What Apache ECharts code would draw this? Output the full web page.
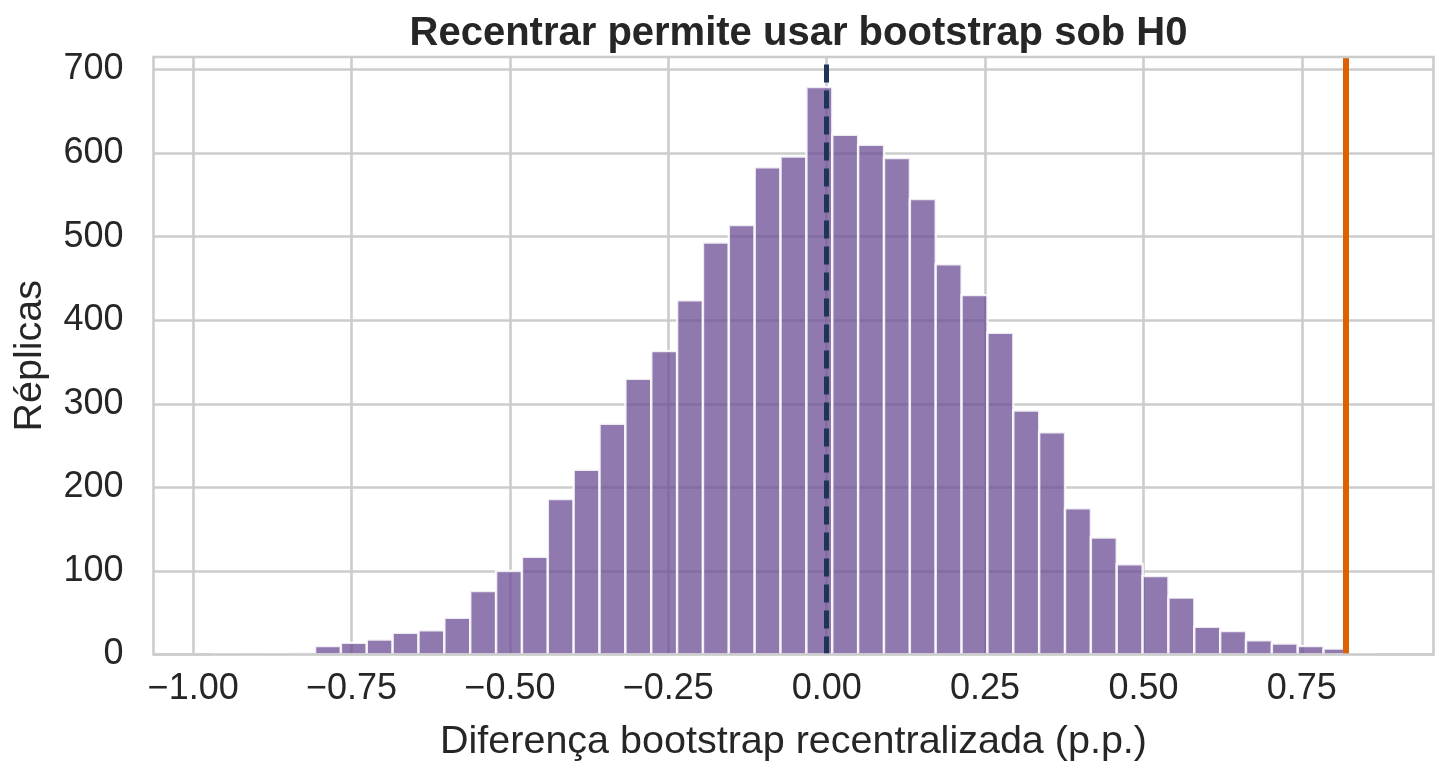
<!DOCTYPE html>
<html>
<head>
<meta charset="utf-8">
<script src="https://cdn.jsdelivr.net/npm/echarts@6/dist/echarts.min.js"></script>
<style>
  html, body { margin: 0; padding: 0; background: #fff; }
  #chart { width: 1449px; height: 777px; }
</style>
</head>
<body>
<div id="chart"></div>
<script>
// histogram bins (left edge of first bin + bin width) and counts per bin
var binStart = -0.9708;
var binWidth = 0.04082;
var counts = [1, 0, 1, 2,
    10, 14, 18, 26, 29, 44, 76, 100, 117,
    186, 221, 276, 330, 363, 424, 493, 514, 583,
    596, 679, 622, 610, 594, 545,
    467, 430, 385, 292, 266, 175, 140,
    108, 94, 68, 33, 28, 17, 13, 10, 7,
    1];

var nullValue = 0;        // H0 centre (dashed)
var observedDiff = 0.821; // observed difference (orange)

var xTicks = [-1, -0.75, -0.5, -0.25, 0, 0.25, 0.5, 0.75];
var yTicks = [0, 100, 200, 300, 400, 500, 600, 700];
var xMin = -1.0626, xMax = 0.9579;
var yMax = 715;

var histData = [];
for (var i = 0; i < counts.length; i++) {
    var lo = binStart + i * binWidth;
    histData.push([lo, lo + binWidth, counts[i]]);
}

var txt = '#262626';
var fontFam = '"Liberation Sans", Arial, sans-serif';
var gridCol = '#cccccc';

var myChart = echarts.init(document.getElementById('chart'));

var option = {
    animation: false,
    title: {
        text: 'Recentrar permite usar bootstrap sob H0',
        left: 793.5,
        textAlign: 'center',
        top: 9,
        textStyle: {
            color: txt,
            fontFamily: fontFam,
            fontWeight: 'bold',
            fontSize: 40
        }
    },
    grid: {
        show: true,
        z: 10,
        left: 153.5,
        right: 15.5,
        top: 57,
        bottom: 122.5,
        borderColor: gridCol,
        borderWidth: 2.6,
        backgroundColor: 'transparent'
    },
    xAxis: {
        type: 'value',
        min: xMin,
        max: xMax,
        name: 'Diferença bootstrap recentralizada (p.p.)',
        nameLocation: 'middle',
        nameGap: 68,
        nameTextStyle: { color: txt, fontFamily: fontFam, fontSize: 39.5 },
        axisLine: { show: false },
        axisTick: { show: false, customValues: xTicks },
        axisLabel: {
            customValues: xTicks,
            margin: 17,
            color: txt,
            fontFamily: fontFam,
            fontSize: 36,
            formatter: function (v) {
                return (v < 0 ? '\u2212' : '') + Math.abs(v).toFixed(2);
            }
        },
        splitLine: { show: true, lineStyle: { color: gridCol, width: 2.6 } }
    },
    yAxis: {
        type: 'value',
        min: 0,
        max: yMax,
        name: 'Réplicas',
        nameLocation: 'middle',
        nameRotate: 90,
        nameGap: 103,
        nameTextStyle: { color: txt, fontFamily: fontFam, fontSize: 39.5 },
        axisLine: { show: false },
        axisTick: { show: false, customValues: yTicks },
        axisLabel: {
            customValues: yTicks,
            margin: 30,
            color: txt,
            fontFamily: fontFam,
            fontSize: 36
        },
        splitLine: { show: true, lineStyle: { color: gridCol, width: 2.6 } }
    },
    series: [
        {
            type: 'custom',
            z: 2,
            renderItem: function (params, api) {
                var p0 = api.coord([api.value(0), api.value(2)]);
                var p1 = api.coord([api.value(1), 0]);
                return {
                    type: 'rect',
                    shape: { x: p0[0], y: p0[1], width: p1[0] - p0[0], height: p1[1] - p0[1] },
                    style: {
                        fill: 'rgba(106,76,147,0.75)',
                        stroke: 'rgba(255,255,255,0.85)',
                        lineWidth: 2.4
                    }
                };
            },
            encode: { x: [0, 1], y: 2 },
            data: histData
        },
        {
            type: 'line',
            z: 5,
            data: [],
            markLine: {
                silent: true,
                symbol: ['none', 'none'],
                label: { show: false },
                data: [
                    { xAxis: nullValue, lineStyle: { color: '#1d3557', width: 5, type: [18, 8] } },
                    { xAxis: observedDiff, lineStyle: { color: '#dd6100', width: 6, type: 'solid' } }
                ]
            }
        }
    ]
};

myChart.setOption(option);
</script>
</body>
</html>
